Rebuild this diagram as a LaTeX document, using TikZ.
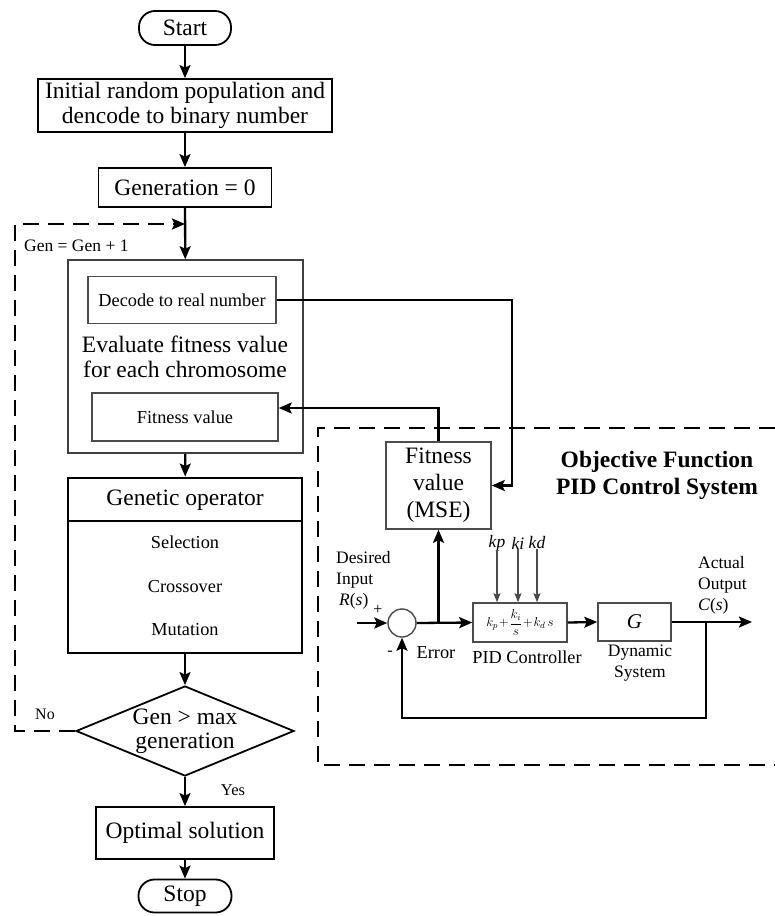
\RequirePackage{fix-cm}
\documentclass[tikz,border=0pt]{standalone}
\usepackage{fontspec}
\setmainfont{Liberation Serif}
\usetikzlibrary{arrows.meta,shapes.geometric}

\newcommand{\fsz}[2]{\fontsize{#1}{#2}\selectfont}

\tikzset{
  flow/.style={draw, line width=1.8pt, inner sep=0pt, align=center, font=\fsz{23.5}{25}},
  term/.style={flow, rounded corners=16pt},
  sub/.style={draw=black!70, line width=1.4pt, inner sep=0pt, align=center, font=\fsz{18.3}{22}},
  blk/.style={draw=black!70, line width=1.5pt, inner sep=0pt, align=center},
  lbl/.style={inner sep=0pt, align=center, font=\fsz{18.3}{21}},
  small/.style={inner sep=0pt, align=left, font=\fsz{17.5}{21}},
  tip/.tip={Stealth[length=13pt,width=11pt,inset=2.5pt]},
  arr/.style={line width=2.3pt, -tip},
  thinarr/.style={line width=1.1pt, draw=black!70, -{Stealth[length=9pt,width=7pt,inset=1.5pt]}},
  loopline/.style={line width=2.5pt, dash pattern=on 16pt off 9pt},
}

\begin{document}
\begin{tikzpicture}[x=1pt,y=-1pt]
\useasboundingbox (0,0) rectangle (775,916);

% ---------- genetic algorithm flow ----------
\node[term, minimum width=92, minimum height=34] (start) at (185,28) {Start};
\node[flow, minimum width=294, minimum height=53] (init) at (185,105.5)
  {Initial random population and\\dencode to binary number};
\node[flow, minimum width=173, minimum height=39] (gen0) at (185,187.5) {Generation = 0};

\node[draw=black!75, line width=1.5pt, minimum width=235, minimum height=193, inner sep=0pt] (eval) at (185.5,356.5) {};
\node[sub, minimum width=188, minimum height=47] (decode) at (182,300) {Decode to real number};
\node[lbl, font=\fsz{23.5}{25}] (evaltxt) at (185,357) {Evaluate fitness value\\for each chromosome};
\node[sub, minimum width=186, minimum height=48] (fit) at (185,417) {Fitness value};

\node[draw, line width=2.9pt, minimum width=234, minimum height=175, inner sep=0pt] (genop) at (185,565.5) {};
\draw[line width=2.9pt] (genop.west |- 0,521) -- (genop.east |- 0,521);
\node[lbl, font=\fsz{23.5}{25}] (gotitle) at (185,500) {Genetic operator};
\node[lbl] (sel) at (185,542) {Selection};
\node[lbl] (cross) at (185,587) {Crossover};
\node[lbl] (mut) at (185,630) {Mutation};

\node[flow, shape=diamond, aspect=2.45, minimum width=218, minimum height=90, font=\fsz{23.5}{24}] (cond) at (185,731)
  {Gen > max\\generation};
\node[flow, minimum width=178, minimum height=52] (opt) at (185,833) {Optimal solution};
\node[term, minimum width=93, minimum height=33] (stop) at (185,896) {Stop};

\coordinate (loopin) at (185,224);
\coordinate (loopbl) at (15,731);
\coordinate (looptl) at (15,224);

\draw[arr] (start) -- (init);
\draw[arr] (init) -- (gen0);
\draw[arr] (gen0) -- (eval);
\draw[arr] (eval) -- (genop);
\draw[arr] (genop) -- (cond);
\draw[arr] (cond) -- (opt);
\draw[arr] (opt) -- (stop);
\draw[loopline, -tip] (cond.west) -- (loopbl) -- (looptl) -- (loopin);

\node[small, anchor=west] (gentxt) at (24,246) {Gen = Gen + 1};
\node[small, font=\fsz{16}{18}] (notxt) at (45,714) {No};
\node[small, font=\fsz{16.5}{18}] (yestxt) at (233,790) {Yes};

% ---------- objective function: PID control loop ----------
\draw[loopline] (775,428) -- (318,428) -- (318,765) -- (775,765);
\node[lbl, font=\bfseries\fsz{23.5}{27}] (title) at (657,475) {Objective Function\\PID Control System};

\node[blk, minimum width=105, minimum height=87, font=\fsz{23.5}{27}] (mse) at (438.5,485.5) {Fitness\\value\\(MSE)};
\node[circle, draw=black!70, line width=1.4pt, minimum size=28, inner sep=0pt] (sum) at (402,623) {};
\node[blk, minimum width=94, minimum height=39, font=\fsz{13}{14}] (pid) at (520,622.5)
  {$\displaystyle k_p\!+\!\frac{k_i}{s}\!+\!k_d\,s$};
\node[blk, minimum width=73, minimum height=38, font=\fsz{21}{22}] (gsys) at (634.5,622) {\textit{G}};

\coordinate (rin) at (357,623);
\coordinate (tapE) at (438.5,623);
\coordinate (tapC) at (706,622);
\coordinate (cout) at (752,622);
\coordinate (fbk) at (706,718);
\coordinate (dturn) at (512,300);
\coordinate (dend) at (512,485.5);
\coordinate (fturn) at (438.5,408);

\draw[arr] (decode.east) -- (dturn) -- (dend) -- (mse.east);
\draw[arr] (mse.north) -- (fturn) -- (fturn -| fit.east);
\draw[arr] (rin) -- (sum.west);
\draw[arr] (sum.east) -- (pid.west);
\draw[arr] (tapE) -- (mse.south);
\draw[arr] (pid.east) -- (gsys.west);
\draw[arr] (gsys.east) -- (cout);
\draw[arr] (tapC) -- (fbk) -| (sum.south);

\node[small, font=\itshape\fsz{17.5}{20}] (kp) at (497,543) {kp};
\node[small, font=\itshape\fsz{17.5}{20}] (ki) at (518,543) {ki};
\node[small, font=\itshape\fsz{17.5}{20}] (kd) at (537,543) {kd};
\draw[thinarr] (kp.south) -- (kp.south |- pid.north);
\draw[thinarr] (ki.south) -- (ki.south |- pid.north);
\draw[thinarr] (kd.south) -- (kd.south |- pid.north);

\node[small, anchor=west] (desired) at (336,580) {Desired\\Input\\\hspace*{3pt}\textit{R}(\textit{s})};
\node[small, font=\fsz{16}{18}] (plus) at (378,610) {+};
\node[small, font=\fsz{16}{18}] (minus) at (390,653) {-};
\node[lbl] (errtxt) at (436,653) {Error};
\node[lbl] (pidtxt) at (527,657) {PID Controller};
\node[small, align=center] (dyntxt) at (640,663) {Dynamic\\System};
\node[small, anchor=west] (actual) at (698,585) {Actual\\Output\\\textit{C}(\textit{s})};
\end{tikzpicture}
\end{document}
